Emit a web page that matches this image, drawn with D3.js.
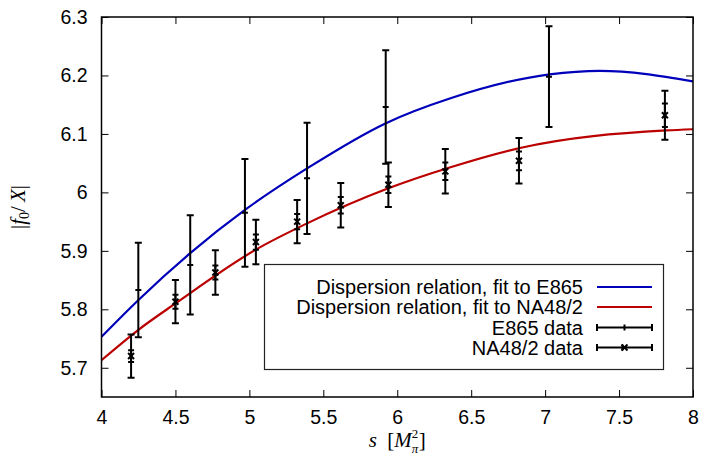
<!DOCTYPE html>
<html>
<head>
<meta charset="utf-8">
<script src="https://cdn.jsdelivr.net/npm/d3@7"></script>
<style>
	body { margin: 0; background: #fff; }
	svg { display: block; }
	.tick-label { font-family: "Liberation Sans", Arial, sans-serif; font-size: 19.5px; fill: #000; }
	.legend-label { font-family: "Liberation Sans", Arial, sans-serif; font-size: 20px; fill: #000; }
	.axis-title { font-family: "Liberation Serif", "Times New Roman", serif; font-size: 21px; fill: #000; }
</style>
</head>
<body>
<script>
// tick values
var sTicks = [4, 4.5, 5, 5.5, 6, 6.5, 7, 7.5, 8];
var fTicks = [5.7, 5.8, 5.9, 6.0, 6.1, 6.2, 6.3];

// dispersion relation curves
var fitE865S = [4.0, 4.25, 4.6, 4.97, 5.39, 5.92, 6.36, 7.03, 7.37, 8.0];
var fitE865V = [5.753, 5.816, 5.896, 5.970, 6.041, 6.118, 6.161, 6.202, 6.208, 6.190];
var fitNA48S = [4.0, 4.25, 4.5, 5.05, 5.39, 5.94, 6.36, 6.83, 7.82, 8.0];
var fitNA48V = [5.713, 5.765, 5.810, 5.903, 5.947, 6.007, 6.043, 6.076, 6.106, 6.108];

// E865 data
var e865S = [4.249, 4.60, 4.97, 5.39, 5.922, 7.026];
var e865V = [5.833, 5.876, 5.965, 6.024, 6.146, 6.198];
var e865Err = [0.081, 0.085, 0.092, 0.095, 0.097, 0.086];

// NA48/2 data
var na48S = [4.20, 4.50, 4.77, 5.044, 5.323, 5.618, 5.94, 6.325, 6.823, 7.81];
var na48V = [5.720, 5.813, 5.863, 5.915, 5.950, 5.978, 6.013, 6.036, 6.054, 6.132];
var na48Err = [0.037, 0.037, 0.038, 0.038, 0.037, 0.038, 0.038, 0.038, 0.039, 0.042];
var na48Stat = [0.010, 0.012, 0.012, 0.013, 0.013, 0.014, 0.014, 0.015, 0.016, 0.020];

var legendLabels = ["Dispersion relation, fit to E865", "Dispersion relation, fit to NA48/2", "E865 data", "NA48/2 data"];

var W = 703, H = 459;
var margin = {left: 101.5, right: 10, top: 17, bottom: 62};

var svg = d3.select('body').append('svg')
	.attr('width', W)
	.attr('height', H);

var x = d3.scaleLinear().domain([4, 8]).range([margin.left, W - margin.right]);
var y = d3.scaleLinear().domain([5.65, 6.3]).range([H - margin.bottom, margin.top]);

var x0 = x.range()[0], x1 = x.range()[1];
var y0 = y.range()[0], y1 = y.range()[1];
var tickLen = 7;

// axes with inward ticks, mirrored
var fmt = function(d){ return d3.format('~g')(d); };

svg.append('g')
	.attr('transform', 'translate(0,' + y0 + ')')
	.call(d3.axisBottom(x).tickValues(sTicks).tickSizeInner(-tickLen).tickSizeOuter(0).tickPadding(13).tickFormat(fmt))
	.call(function(g){ g.select('.domain').remove(); });
svg.append('g')
	.attr('transform', 'translate(0,' + y1 + ')')
	.call(d3.axisTop(x).tickValues(sTicks).tickSizeInner(-tickLen).tickSizeOuter(0).tickFormat(''))
	.call(function(g){ g.select('.domain').remove(); });
svg.append('g')
	.attr('transform', 'translate(' + x0 + ',0)')
	.call(d3.axisLeft(y).tickValues(fTicks).tickSizeInner(-tickLen).tickSizeOuter(0).tickPadding(14).tickFormat(fmt))
	.call(function(g){ g.select('.domain').remove(); });
svg.append('g')
	.attr('transform', 'translate(' + x1 + ',0)')
	.call(d3.axisRight(y).tickValues(fTicks).tickSizeInner(-tickLen).tickSizeOuter(0).tickFormat(''))
	.call(function(g){ g.select('.domain').remove(); });

svg.selectAll('.tick line').attr('stroke', '#000').attr('stroke-width', 1);
svg.selectAll('.tick text').attr('class', 'tick-label').attr('font-size', null).attr('font-family', null);

// curves
var line = d3.line()
	.x(function(d){ return x(d[0]); })
	.y(function(d){ return y(d[1]); })
	.curve(d3.curveMonotoneX);

svg.append('clipPath').attr('id', 'plotclip')
	.append('rect').attr('x', x0).attr('y', y1).attr('width', x1 - x0).attr('height', y0 - y1);

var plot = svg.append('g').attr('clip-path', 'url(#plotclip)');

plot.append('path')
	.attr('d', line(d3.zip(fitE865S, fitE865V)))
	.attr('fill', 'none')
	.attr('stroke', '#0000bb')
	.attr('stroke-width', 2.2);
plot.append('path')
	.attr('d', line(d3.zip(fitNA48S, fitNA48V)))
	.attr('fill', 'none')
	.attr('stroke', '#bb0000')
	.attr('stroke-width', 2.2);

// error bars
function errBar(g, cx, ytop, ybot, cap){
	g.append('line').attr('x1', cx).attr('x2', cx).attr('y1', ytop).attr('y2', ybot);
	g.append('line').attr('x1', cx - cap).attr('x2', cx + cap).attr('y1', ytop).attr('y2', ytop);
	g.append('line').attr('x1', cx - cap).attr('x2', cx + cap).attr('y1', ybot).attr('y2', ybot);
}
function xMark(g, cx, cy, r){
	g.append('line').attr('x1', cx - r).attr('x2', cx + r).attr('y1', cy - r).attr('y2', cy + r);
	g.append('line').attr('x1', cx - r).attr('x2', cx + r).attr('y1', cy + r).attr('y2', cy - r);
}

var bars = plot.append('g').attr('stroke', '#000').attr('stroke-width', 2).attr('fill', 'none');

e865S.forEach(function(s, i){
	var cx = x(s), cy = y(e865V[i]);
	errBar(bars, cx, y(e865V[i] + e865Err[i]), y(e865V[i] - e865Err[i]), 3.5);
	bars.append('line').attr('x1', cx - 3).attr('x2', cx + 3).attr('y1', cy).attr('y2', cy);
});

na48S.forEach(function(s, i){
	var cx = x(s), cy = y(na48V[i]);
	errBar(bars, cx, y(na48V[i] + na48Err[i]), y(na48V[i] - na48Err[i]), 3.5);
	errBar(bars, cx, y(na48V[i] + na48Stat[i]), y(na48V[i] - na48Stat[i]), 3);
	xMark(bars, cx, cy, 3);
});

// frame
svg.append('rect')
	.attr('x', x0).attr('y', y1)
	.attr('width', x1 - x0).attr('height', y0 - y1)
	.attr('fill', 'none')
	.attr('stroke', '#000')
	.attr('stroke-width', 1.5);

// legend
var legend = svg.append('g');
legend.append('rect')
	.attr('x', 264.5).attr('y', 264.5)
	.attr('width', 399).attr('height', 105)
	.attr('fill', '#fff')
	.attr('stroke', '#222')
	.attr('stroke-width', 1.2);

var rowY = [287, 307, 327.5, 347.5];
var textRight = 583, sx1 = 597, sx2 = 652;
legendLabels.forEach(function(lbl, i){
	legend.append('text')
		.attr('class', 'legend-label')
		.attr('x', textRight)
		.attr('y', rowY[i])
		.attr('dy', '0.35em')
		.attr('text-anchor', 'end')
		.text(lbl);
});
legend.append('line').attr('x1', sx1).attr('x2', sx2).attr('y1', rowY[0]).attr('y2', rowY[0])
	.attr('stroke', '#0000bb').attr('stroke-width', 2.2);
legend.append('line').attr('x1', sx1).attr('x2', sx2).attr('y1', rowY[1]).attr('y2', rowY[1])
	.attr('stroke', '#bb0000').attr('stroke-width', 2.2);

var lg = legend.append('g').attr('stroke', '#000').attr('stroke-width', 2);
[2, 3].forEach(function(r){
	var ly = rowY[r], mid = (sx1 + sx2) / 2;
	lg.append('line').attr('x1', sx1).attr('x2', sx2).attr('y1', ly).attr('y2', ly);
	lg.append('line').attr('x1', sx1).attr('x2', sx1).attr('y1', ly - 3.5).attr('y2', ly + 3.5);
	lg.append('line').attr('x1', sx2).attr('x2', sx2).attr('y1', ly - 3.5).attr('y2', ly + 3.5);
	if (r == 2){
		lg.append('line').attr('x1', mid).attr('x2', mid).attr('y1', ly - 3).attr('y2', ly + 3);
	} else {
		xMark(lg, mid, ly, 3);
		lg.append('line').attr('x1', mid - 2).attr('x2', mid - 2).attr('y1', ly - 3).attr('y2', ly + 3);
	}
});

// axis titles
var xt = svg.append('text')
	.attr('class', 'axis-title')
	.attr('x', (x0 + x1) / 2)
	.attr('y', 447)
	.attr('text-anchor', 'middle');
xt.append('tspan').attr('font-style', 'italic').text('s');
xt.append('tspan').text('\u2002[');
xt.append('tspan').attr('font-style', 'italic').text('M');
xt.append('tspan').attr('font-size', '13px').attr('dy', -9).text('2');
xt.append('tspan').attr('font-size', '13px').attr('font-style', 'italic').attr('dx', -6.5).attr('dy', 15).text('\u03c0');
xt.append('tspan').attr('dy', -6).attr('dx', 0.5).text(']');

var yt = svg.append('text')
	.attr('class', 'axis-title')
	.attr('transform', 'translate(25,' + ((y0 + y1) / 2) + ') rotate(-90)')
	.attr('text-anchor', 'middle');
yt.append('tspan').text('|');
yt.append('tspan').attr('font-style', 'italic').text('f');
yt.append('tspan').attr('font-size', '14px').attr('dy', 4).text('0');
yt.append('tspan').attr('dy', -4).text('/\u2009');
yt.append('tspan').attr('font-style', 'italic').text('X');
yt.append('tspan').text('|');
</script>
</body>
</html>
